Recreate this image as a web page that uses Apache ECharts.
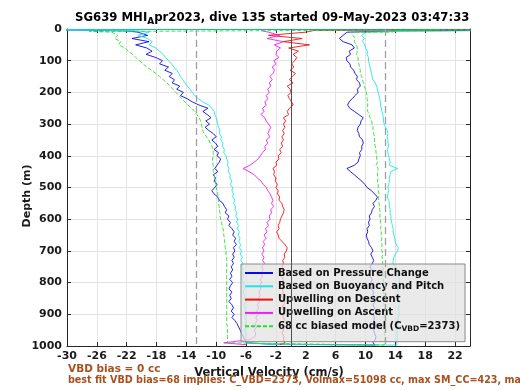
<!DOCTYPE html>
<html><head><meta charset="utf-8">
<script src="https://cdn.jsdelivr.net/npm/echarts@6/dist/echarts.min.js"></script>
<style>html,body{margin:0;padding:0;background:#fff}#c{width:520px;height:390px}</style>
</head><body><div id="c"></div>
<script>
// ---------- data ----------
const xTicks = [-30,-26,-22,-18,-14,-10,-6,-2,2,6,10,14,18,22];
const depthTicks = [0,100,200,300,400,500,600,700,800,900,1000];
const depths = [10,20,30,40,50,60,70,80,90,100,110,120,130,140,150,160,170,180,190,200,
 210,220,230,240,250,260,270,280,290,300,310,320,330,340,350,360,370,380,390,400,
 410,420,430,440,450,460,470,480,490,500,510,520,530,540,550,560,570,580,590,600,
 610,620,630,640,650,660,670,680,690,700,710,720,730,740,750,760,770,780,790,800,
 810,820,830,840,850,860,870,880,890,900,910,920,930,940,950,960,970,980,990];

const blueDesc = [-20.5,-19.2,-21.3,-19.0,-20.8,-19.3,-18.6,-19.4,-18.1,-17.2,
 -17.6,-16.4,-16.9,-15.9,-16.3,-15.6,-15.9,-14.9,-15.3,-14.4,
 -14.8,-13.9,-13.2,-12.3,-11.1,-11.8,-11.2,-10.7,-11.4,-10.9,
 -11.5,-11.0,-10.4,-10.0,-10.6,-10.1,-9.8,-10.3,-9.7,-9.9,
 -9.4,-9.6,-9.9,-10.2,-9.8,-10.4,-10.1,-10.3,-9.9,-10.2,
 -10.6,-10.3,-9.8,-9.6,-9.1,-8.9,-8.6,-8.8,-8.3,-8.5,
 -8.1,-8.3,-7.9,-7.6,-7.8,-7.4,-7.6,-7.3,-7.7,-7.5,
 -7.8,-7.6,-7.9,-7.7,-8.0,-7.8,-8.1,-7.9,-8.2,-7.8,
 -8.1,-8.3,-7.9,-8.2,-8.0,-8.3,-7.9,-7.7,-8.0,-7.6,
 -7.9,-7.5,-7.2,-7.0,-6.8,-6.6,-6.4,-6.2,-5.9];
const blueAsc = [7.5,7.0,6.5,7.0,8.2,8.5,7.8,8.0,7.4,7.5,
 7.9,8.0,8.4,8.6,8.9,8.8,9.2,9.3,8.9,9.0,
 8.6,8.2,7.8,7.6,7.9,8.5,9.1,9.7,9.4,9.3,
 9.0,8.9,9.1,9.2,9.6,9.7,9.5,9.5,9.2,9.3,
 9.1,9.0,8.5,7.5,8.0,8.5,9.0,9.5,9.9,10.2,
 10.8,11.2,11.6,11.4,11.0,11.2,10.9,10.8,10.5,10.6,
 10.4,10.5,10.2,10.3,10.1,10.2,10.4,10.5,10.8,11.0,
 10.7,10.9,11.1,10.9,10.6,10.8,10.5,10.6,10.9,10.7,
 10.9,10.8,11.1,11.0,11.3,11.3,11.0,11.2,11.4,11.0,
 11.2,11.1,11.4,11.3,11.1,11.2,11.4,11.3,11.0];
const blueHead = [[-40,1],[-30,3],[-22,6]];
const blueBottom = [[-3,994],[11.3,997]];
const blueTail = [[15,6],[40,2]];

const cyanDesc = [-19.0,-20.5,-19.2,-18.6,-19.0,-18.1,-17.6,-17.1,-16.8,-16.4,
 -16.0,-15.7,-15.3,-15.0,-14.8,-14.5,-14.2,-13.9,-13.5,-13.2,
 -12.9,-12.4,-11.8,-11.0,-10.6,-10.3,-10.2,-10.0,-9.9,-9.8,
 -9.7,-9.5,-9.6,-9.3,-9.4,-9.1,-9.2,-8.9,-9.0,-8.7,
 -8.6,-8.4,-8.5,-8.3,-8.4,-8.1,-8.2,-7.9,-8.1,-7.8,
 -7.9,-7.7,-7.8,-7.5,-7.7,-7.4,-7.5,-7.2,-7.4,-7.1,
 -7.3,-7.0,-7.2,-6.9,-7.1,-6.8,-7.0,-6.7,-6.9,-6.6,
 -6.8,-6.5,-6.7,-6.4,-6.6,-6.4,-6.5,-6.3,-6.5,-6.3,
 -6.4,-6.2,-6.4,-6.2,-6.3,-6.1,-6.3,-6.1,-6.2,-6.0,
 -6.2,-6.0,-6.1,-6.0,-6.2,-6.0,-6.1,-6.0,-6.0];
const cyanAsc = [10.0,9.5,9.8,9.6,9.9,10.0,10.3,10.2,10.4,10.4,
 10.5,10.6,10.7,10.8,10.9,11.0,11.3,11.5,11.6,11.7,
 11.8,11.9,12.0,12.0,12.1,12.2,12.3,12.4,12.4,12.5,
 12.7,12.9,13.0,12.9,13.0,13.0,13.1,12.9,13.0,13.1,
 13.2,13.3,13.2,14.3,13.4,13.3,13.2,13.2,13.1,13.0,
 13.1,13.0,12.9,13.1,13.2,13.2,13.3,13.3,13.4,13.4,
 13.5,13.6,13.7,13.7,13.8,13.9,14.0,14.1,14.4,14.3,
 14.0,13.8,13.7,13.7,14.0,14.2,14.3,14.4,14.5,14.6,
 14.4,14.3,14.4,14.3,14.3,14.4,14.5,14.4,14.5,14.5,
 14.4,14.3,14.4,14.3,14.3,14.2,14.3,14.2,14.2];
const cyanHead = [[30,0.3],[-40,1.5],[-21,5]];
const cyanBottom = [[-2,995],[14.2,997]];
const cyanTail = [[16,7],[40,3]];

const greenDesc = [-24.0,-23.2,-23.6,-22.8,-23.1,-22.2,-21.8,-21.2,-20.8,-20.3,
 -19.8,-19.3,-18.7,-18.1,-17.6,-17.1,-16.6,-16.2,-15.8,-15.4,
 -15.0,-14.6,-14.2,-13.8,-13.3,-12.9,-12.6,-12.3,-12.1,-12.0,
 -11.9,-11.8,-11.6,-11.3,-11.0,-10.8,-10.6,-10.4,-10.4,-10.4,
 -10.5,-10.5,-10.4,-10.4,-10.4,-10.3,-10.2,-10.1,-10.1,-10.0,
 -9.9,-9.8,-9.8,-9.7,-9.7,-9.6,-9.6,-9.5,-9.5,-9.4,
 -9.3,-9.2,-9.1,-9.0,-9.0,-8.9,-8.9,-8.8,-8.8,-8.7,
 -8.7,-8.6,-8.6,-8.6,-8.6,-8.6,-8.6,-8.6,-8.6,-8.6,
 -8.6,-8.6,-8.6,-8.6,-8.6,-8.6,-8.6,-8.6,-8.6,-8.6,
 -8.6,-8.6,-8.6,-8.5,-8.5,-8.5,-8.5,-8.5,-8.5];
const greenAsc = [8.0,8.3,8.6,8.5,8.8,8.9,8.9,8.8,9.0,9.0,
 9.1,9.2,9.3,9.3,9.5,9.6,9.7,9.8,10.0,10.1,
 10.2,10.2,10.3,10.3,10.2,10.3,10.5,10.6,10.8,10.9,
 11.0,11.0,11.1,11.2,11.2,11.2,11.3,11.4,11.4,11.5,
 11.5,11.6,11.4,11.7,11.6,11.6,11.7,11.6,11.7,11.7,
 11.7,11.8,11.7,11.8,11.8,11.9,11.9,12.0,11.9,12.0,
 12.0,12.1,12.0,12.1,12.1,12.2,12.1,12.2,12.2,12.2,
 12.3,12.2,12.3,12.3,12.3,12.4,12.3,12.4,12.4,12.4,
 12.4,12.5,12.4,12.5,12.5,12.4,12.5,12.5,12.5,12.5,
 12.5,12.6,12.5,12.6,12.6,12.5,12.6,12.6,12.5];
const greenHead = [[40,0.5],[-27,8]];
const greenBottom = [[-8.5,995],[12.5,997]];
const greenTail = [[13.5,10],[14.2,5],[20,2]];

const magentaAsc = [-3.0,-1.5,-3.2,-1.0,-2.2,-1.4,-1.9,-2.0,-1.6,-2.3,
 -2.0,-2.5,-2.2,-2.4,-2.8,-2.5,-2.9,-2.7,-3.1,-2.9,
 -3.3,-3.1,-3.5,-3.3,-3.8,-3.6,-4.0,-3.5,-3.3,-3.0,
 -2.7,-2.9,-3.1,-2.8,-3.3,-3.1,-3.5,-3.4,-3.8,-4.1,
 -4.4,-4.9,-5.5,-6.4,-5.6,-4.9,-4.5,-4.0,-3.7,-3.3,
 -3.1,-2.8,-2.6,-2.4,-2.6,-2.3,-2.7,-2.6,-2.9,-2.8,
 -3.2,-3.0,-3.4,-3.2,-3.6,-3.3,-3.7,-3.5,-3.8,-3.6,
 -3.9,-3.6,-3.8,-3.5,-3.9,-3.7,-4.0,-3.8,-4.1,-3.9,
 -4.2,-4.0,-4.3,-4.1,-4.4,-4.2,-4.5,-4.3,-4.6,-4.4,
 -4.7,-4.5,-4.8,-4.6,-4.9,-4.7,-4.8,-5.5,-9.0];
const magentaHead = [[-4,5]];
const magentaBottom = [[-6,996]];

const redDesc = [2.0,-3.0,1.5,-1.0,2.5,-0.3,1.0,0.3,0.8,0.5,
 0.1,0.4,-0.1,0.6,0.2,-0.2,0.3,-0.5,-0.1,0.0,
 -0.4,-0.2,0.1,0.3,-0.2,-0.5,-0.3,-1.0,-0.7,-1.0,
 -0.8,-1.1,-0.9,-1.2,-1.0,-1.3,-1.1,-1.5,-1.3,-1.7,
 -1.6,-2.0,-1.9,-2.4,-2.2,-2.3,-2.0,-2.1,-1.8,-2.0,
 -1.7,-1.8,-1.5,-1.6,-1.2,-1.1,-0.9,-1.0,-1.2,-1.4,
 -1.5,-1.7,-1.6,-1.9,-1.7,-1.6,-1.2,-0.8,-0.5,-0.6,
 -0.9,-0.8,-1.1,-1.0,-1.2,-0.9,-1.1,-1.3,-1.0,-1.1,
 -0.9,-1.2,-1.0,-1.3,-1.1,-0.8,-1.0,-1.2,-0.9,-1.1,
 -1.0,-0.8,-1.1,-0.9,-1.0,-1.2,-0.9,-1.0,-0.8];
const redHead = [[40,0.3],[3,5]];
const redBottom = [[-1.5,996]];

const modelLines = [-12.7, 12.7];
const zeroLine = 0;

const seriesNames = ['Based on Pressure Change','Based on Buoyancy and Pitch','Upwelling on Descent','Upwelling on Ascent','68 cc biased model (C_VBD=2373)'];

// ---------- build ----------
function pairs(vals){ return vals.map((v,i)=>[v, depths[i]]); }
function pairsRev(vals){ return vals.map((v,i)=>[v, depths[i]]).reverse(); }
const blueData = blueHead.concat(pairs(blueDesc), blueBottom, pairsRev(blueAsc), blueTail);
const cyanData = cyanHead.concat(pairs(cyanDesc), cyanBottom, pairsRev(cyanAsc), cyanTail);
const greenData = greenHead.concat(pairs(greenDesc), greenBottom, pairsRev(greenAsc), greenTail);
const redData = redHead.concat(pairs(redDesc), redBottom);
const magentaData = magentaHead.concat(pairs(magentaAsc), magentaBottom);

const FONT = 'DejaVu Sans';
const chart = echarts.init(document.getElementById('c'), null, {renderer:'canvas'});
function lineSeries(name, data, color, extra){
  return Object.assign({
    name, type:'line', data, xAxisIndex:0, yAxisIndex:0,
    symbol:'none', showSymbol:false, smooth:false, animation:false, clip:true,
    lineStyle:{color, width:0.9}, itemStyle:{color}, emphasis:{disabled:true}
  }, extra||{});
}
const axisCommon = {
  type:'value',
  axisLine:{show:true, onZero:false, lineStyle:{color:'#262626', width:1}},
  axisTick:{show:true, inside:true, length:4, lineStyle:{color:'#262626'}},
};
chart.setOption({
  animation:false,
  backgroundColor:'#ffffff',
  title:{
    text:'SG639 MHI{sub|A}pr2023, dive 135 started 09-May-2023 03:47:33',
    left:70, top:5,
    textStyle:{fontFamily:FONT, fontWeight:'bold', fontSize:11.7, color:'#000',
      rich:{sub:{fontFamily:FONT, fontWeight:'bold', fontSize:9, color:'#000', padding:[7,0,0,0]}}}
  },
  grid:{left:67, top:29, width:403, height:317, containLabel:false},
  xAxis:[
    Object.assign({}, axisCommon, {position:'bottom', min:-30, max:24, interval:4,
      axisLabel:{fontFamily:FONT, fontWeight:'bold', fontSize:11, color:'#1a1a1a', margin:5,
        showMaxLabel:false, formatter:v=> xTicks.indexOf(v)>=0 ? String(v) : ''},
      splitLine:{show:true, lineStyle:{color:'#e3e3e3', width:1}}}),
    Object.assign({}, axisCommon, {position:'top', min:-30, max:24, interval:4,
      axisLabel:{show:false}, splitLine:{show:false}})
  ],
  yAxis:[
    Object.assign({}, axisCommon, {position:'left', inverse:true, min:0, max:1000, interval:100,
      axisLabel:{fontFamily:FONT, fontWeight:'bold', fontSize:11, color:'#1a1a1a', margin:5,
        formatter:v=> depthTicks.indexOf(v)>=0 ? String(v) : ''},
      splitLine:{show:true, lineStyle:{color:'#e3e3e3', width:1}}}),
    Object.assign({}, axisCommon, {position:'right', inverse:true, min:0, max:1000, interval:100,
      axisLabel:{show:false}, splitLine:{show:false}})
  ],
  legend:{
    orient:'vertical', left:241, top:264,
    data:seriesNames,
    backgroundColor:'rgba(226,226,226,0.72)', borderColor:'#8a8a8a', borderWidth:1, borderRadius:0,
    padding:[3,5,9,3], itemGap:1.3, itemWidth:28, itemHeight:10,
    itemStyle:{opacity:0},
    selectedMode:false,
    formatter:n=> n===seriesNames[4] ? '68 cc biased model (C{sub|VBD}=2373)' : n,
    textStyle:{fontFamily:FONT, fontWeight:'bold', fontSize:10, color:'#111', lineHeight:12,
      rich:{sub:{fontFamily:FONT, fontWeight:'bold', fontSize:7.5, color:'#111', padding:[5,0,0,0]}}}
  },
  graphic:[
    {type:'text', x:27, y:196, rotation:Math.PI/2,
      style:{text:'Depth (m)', font:'bold 11px "DejaVu Sans"', fill:'#1a1a1a', align:'center', verticalAlign:'middle'}},
    {type:'text', x:269, y:373,
      style:{text:'Vertical Velocity (cm/s)', font:'bold 11.5px "DejaVu Sans"', fill:'#1a1a1a', align:'center', verticalAlign:'middle'}},
    {type:'text', x:68, y:369,
      style:{text:'VBD bias = 0 cc', font:'bold 10.5px "DejaVu Sans"', fill:'#a8501e', align:'left', verticalAlign:'middle'}},
    {type:'text', x:68, y:380,
      style:{text:'best fit VBD bias=68 implies: C_VBD=2373, Volmax=51098 cc, max SM_CC=423, max MAX', font:'bold 9.6px "DejaVu Sans"', fill:'#a8501e', align:'left', verticalAlign:'middle'}}
  ],
  series:[
    lineSeries(seriesNames[0], blueData, '#0a0ae6'),
    lineSeries(seriesNames[1], cyanData, '#1ee6e6'),
    lineSeries(seriesNames[2], redData, '#ee1111', {
      markLine:{silent:true, symbol:['none','none'], label:{show:false}, animation:false,
        data:[
          {xAxis:modelLines[0], lineStyle:{color:'#a0a0a0', width:1.3, type:[7,4]}},
          {xAxis:modelLines[1], lineStyle:{color:'#a0a0a0', width:1.3, type:[7,4]}},
          {xAxis:zeroLine, lineStyle:{color:'#505050', width:1, type:'solid'}}
        ]}
    }),
    lineSeries(seriesNames[3], magentaData, '#f01cf0'),
    lineSeries(seriesNames[4], greenData, '#2edc2e', {lineStyle:{color:'#2edc2e', width:0.9, type:[4,2]}})
  ]
});
</script></body></html>
